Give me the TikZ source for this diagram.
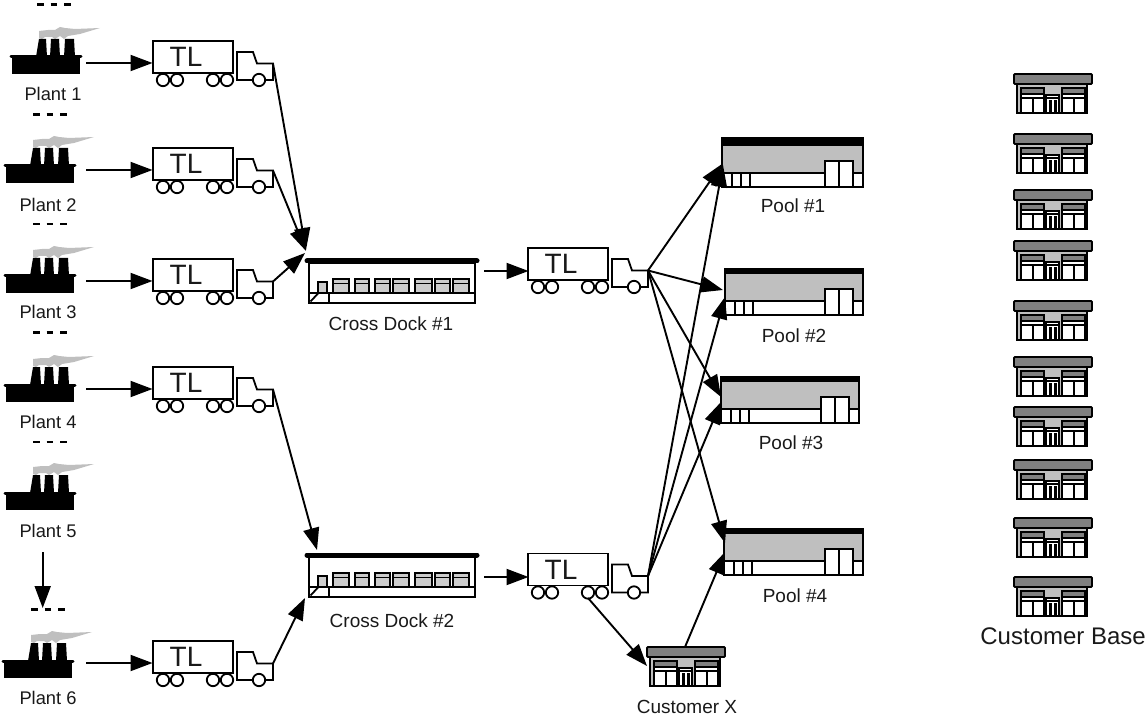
\documentclass[tikz,border=0pt]{standalone}
\usepackage{fontspec}
\setmainfont{Liberation Sans}
\usetikzlibrary{arrows.meta}
\tikzset{
  line/.style={line width=1.8pt,draw=black},
  thin line/.style={line width=1.2pt,draw=black},
  flow/.style={line width=1.9pt,-{Triangle[length=22pt,width=16pt]}},
  caption/.style={font=\fontsize{19}{22}\selectfont,text=black!90,inner sep=0pt},
  dots/.style={line width=#1,dash pattern=on 6.5pt off 7pt},
  dots/.default=3pt,
  truck/.pic={
    \draw[line] (84,39) -- (84,11) -- (100,11) -- (104,22.5) -- (120,22.5) -- (120,39) -- cycle;
    \foreach \x in {10,24,60,74,106}
      \draw[line,fill=white] (\x,39) circle (6.2);
    \draw[line,fill=white] (0,0) rectangle (80,32);
    \node[font=\fontsize{28}{30}\selectfont,text=black!90,inner sep=0pt] (-lab) at (33,16) {TL};
    \coordinate (-cab) at (120,22.5);
  },
  plant/.pic={
    \fill[black!25] (29,-26) -- (29,-19) -- (32,-18) -- (35,-20) -- (42,-20) -- (45,-18) -- (50,-21)
      -- (54,-18) -- (58,-21) -- (70,-23) -- (90,-29) -- (65,-28) -- (55,-29) -- (50,-30) -- (45,-27) -- (38,-27) -- cycle;
    \fill[black] (2,0) rectangle (70,17);
    \draw[line width=3pt,line cap=round] (1,0) -- (71,0);
    \fill[black] (26,0) -- (29,-18) -- (36,-18) -- (37,0) -- cycle;
    \fill[black] (40,0) -- (41,-18) -- (49,-18) -- (50,0) -- cycle;
    \fill[black] (54,0) -- (55,-18) -- (64,-18) -- (65,0) -- cycle;
  },
  crossdock/.pic={
    \draw[line] (4,5) rectangle (170,45);
    \draw[line] (4,35) -- (170,35);
    \foreach \a/\b in {28/44,50/64,70/85,88/104,110/127,130/145,148/164} {
      \draw[thin line,fill=black!20] (\a,21) rectangle (\b,35);
      \draw[thin line] (\a,25.5) -- (\b,25.5);
    }
    \draw[thin line,fill=black!20] (13,24) rectangle (22,35);
    \draw[thin line] (24,35) -- (24,45);
    \draw[line width=1.8pt] (5.5,43.5) -- (13,35.5);
    \draw[line width=5pt,line cap=round] (2,3) -- (172,3);
  },
  shop/.pic={
    \draw[line,fill=black!25] (3,10) rectangle (73,39);
    \foreach \a in {7,48} {
      \fill[white] (\a,21) rectangle ++(23,18);
      \draw[thin line] (\a,14) rectangle ++(23,25);
      \draw[thin line,fill=black!50] (\a,14) rectangle ++(23,6);
      \draw[thin line] (\a,24) -- ++(23,0);
      \draw[line] (\a+12,24) -- ++(0,15);
    }
    \fill[white] (32,21) rectangle (45,39);
    \draw[thin line] (32,21) rectangle (45,39);
    \draw[thin line] (32,24) -- (45,24);
    \fill[black] (35,26) rectangle (37.5,39);
    \fill[black] (40,26) rectangle (42.5,39);
    \draw[line,fill=black!50,rounded corners=1pt] (0,0) rectangle (78,10);
  },
}

\begin{document}
\begin{tikzpicture}[x=1pt,y=-1pt]
  \useasboundingbox (0,0) rectangle (1146,719);
  % plants and their trailers
  \foreach \n/\px/\py/\lx/\ly in {1/10/57/53/94,2/4/166/48/205,3/4/276/48/312,4/4/385/48/422,5/4/493/48/531,6/2/661/48/698}
  {
    \pic (plant\n) at (\px,\py) {plant};
    \node[caption,font=\fontsize{18.3}{22}\selectfont] (lab\n) at (\lx,\ly) {Plant \n};
  }
  \foreach \n/\ty in {1/41,2/148,3/259,4/367,6/641}
  {
    \pic (tl\n) at (153,\ty) {truck};
    \coordinate (tlin\n) at (152.5,\ty+22);
    \coordinate (plout\n) at (86,\ty+22);
    \draw[flow] (plout\n) -- (tlin\n);
  }
  % dashes
  \draw[dots] (37,5) -- (72,5);
  \draw[dots] (33,115) -- (68,115);
  \draw[dots=1.6pt] (33,224) -- (68,224);
  \draw[dots] (33,333) -- (68,333);
  \draw[dots=1.6pt] (33,442) -- (68,442);
  \draw[dots] (31,609) -- (66,609);
  \coordinate (down1) at (42.7,552);
  \coordinate (down2) at (42.7,608);
  \draw[flow] (down1) -- (down2);
  % docks
  \pic (dock1) at (305,258) {crossdock};
  \pic (dock2) at (305,552) {crossdock};
  \node[caption] (labdock1) at (391,324) {Cross Dock \#1};
  \node[caption] (labdock2) at (392,621) {Cross Dock \#2};
  \coordinate (d1a) at (306,250);
  \coordinate (d1b) at (306,251);
  \coordinate (d1c) at (305,253);
  \coordinate (d2a) at (317,550);
  \coordinate (d2b) at (305,598);
  \draw[flow] (tl1-cab) -- (d1a);
  \draw[flow] (tl2-cab) -- (d1b);
  \draw[flow] (tl3-cab) -- (d1c);
  \draw[flow] (tl4-cab) -- (d2a);
  \draw[flow] (tl6-cab) -- (d2b);
  % second leg
  \pic (tl7) at (528,248) {truck};
  \pic (tl8) at (528,553.5) {truck};
  \coordinate (d1out) at (484,271);
  \coordinate (d2out) at (484,577);
  \coordinate (tlin7) at (528.5,271);
  \coordinate (tlin8) at (528.5,577);
  \draw[flow] (d1out) -- (tlin7);
  \draw[flow] (d2out) -- (tlin8);
  % pools
  \foreach \n/\px/\py/\w/\h/\b/\lx/\ly in {1/722/138/141/49/8/793/206,2/725/269/138/46/5/794/336,3/721/377/138/46/5/791/443,4/724/529/139/46/5/795/596}
  {
    \begin{scope}[shift={(\px,\py)}]
      \fill[black!25] (0,\b) rectangle (\w,\h-14);
      \fill[black] (0,0) rectangle (\w,\b);
      \draw[line] (0,0) rectangle (\w,\h);
      \draw[line] (0,\h-14) -- (\w,\h-14);
      \foreach \x in {10,19,28} \draw[line] (\x,\h-14) -- (\x,\h);
      \draw[line,fill=white] (\w-38,\h-26) rectangle (\w-10,\h);
      \draw[line] (\w-24,\h-26) -- (\w-24,\h);
    \end{scope}
    \node[caption] (labpool\n) at (\lx,\ly) {Pool \#\n};
  }
  \coordinate (pa1) at (722,164);
  \coordinate (pb1) at (723,165);
  \coordinate (pa2) at (723,290);
  \coordinate (pb2) at (725,297);
  \coordinate (pa3) at (721,397);
  \coordinate (pb3) at (721,402);
  \coordinate (pa4) at (725,543);
  \coordinate (pb4) at (725,552);
  \draw[flow] (tl7-cab) -- (pa1);
  \draw[flow] (tl7-cab) -- (pa2);
  \draw[flow] (tl7-cab) -- (pa3);
  \draw[flow] (tl7-cab) -- (pa4);
  \draw[flow] (tl8-cab) -- (pb1);
  \draw[flow] (tl8-cab) -- (pb2);
  \draw[flow] (tl8-cab) -- (pb3);
  % customers
  \foreach \sy in {74,134,190,241,301,357,407,460,518,577}
    \pic (base\sy) at (1014,\sy) {shop};
  \node[caption,font=\fontsize{24}{26}\selectfont,anchor=east] (labbase) at (1146,636) {Customer Base};
  \pic (custx) at (647,647) {shop};
  \node[caption] (labx) at (687,707) {Customer X};
  \coordinate (tlbelow) at (588,598);
  \coordinate (custin) at (647,666);
  \coordinate (custout) at (685,647);
  \draw[flow] (tlbelow) -- (custin);
  \draw[flow] (custout) -- (pb4);
\end{tikzpicture}
\end{document}
